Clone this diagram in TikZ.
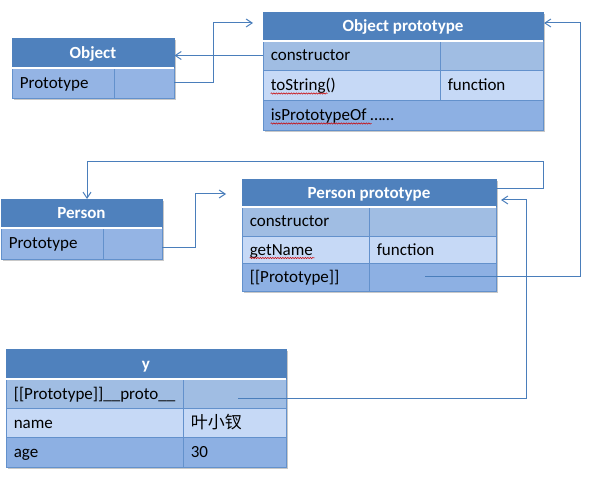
\documentclass[tikz,border=0pt]{standalone}
\usepackage{fontspec}
\setmainfont{Carlito}
\newfontfamily\cjk{Noto Sans CJK SC}
\usetikzlibrary{fit,arrows.meta,decorations.pathmorphing}
\definecolor{hdrblue}{HTML}{4F81BD}
\definecolor{rowmid}{HTML}{A0BDE3}
\definecolor{rowlight}{HTML}{C6D9F6}
\definecolor{rowdark}{HTML}{8DB0E3}
\definecolor{rowone}{HTML}{94B4E4}
\definecolor{gridblue}{HTML}{6391CC}
\definecolor{connblue}{HTML}{4A7EBB}
\definecolor{shadowgray}{HTML}{C8C8C8}
\tikzset{
  hdrbox/.style={inner sep=0pt, fill=hdrblue, draw=hdrblue, line width=0.8pt},
  cellbox/.style={inner sep=0pt, draw=gridblue, line width=0.8pt},
  celltext/.style={anchor=base west, inner sep=0pt, xshift=8pt, yshift=-5.5pt, text=black},
  hdrtext/.style={anchor=base, inner sep=0pt, yshift=-5.5pt, text=white, font=\fontsize{17}{20}\selectfont\bfseries},
  sep/.style={draw=white, line width=2pt},
  conn/.style={draw=connblue, line width=1pt, -{Straight Barb[length=6pt,width=8pt]}},
  spell/.style={draw=red!80!black, line width=0.5pt, decorate, decoration={snake, amplitude=0.7pt, segment length=2.5pt}},
  shadow/.style={fill=shadowgray}
}
\newcommand\tcell[6]{\node[#6, fit={(#2,#3) (#4,#5)}] (#1) {};}
\newcommand\ctext[2]{\node[celltext] (#1t) at (#1.west) {#2};}
\newcommand\htext[2]{\node[hdrtext] (#1t) at (#1.center) {#2};}
\begin{document}
\begin{tikzpicture}[x=1pt, y=-1pt, font=\fontsize{17}{20}\selectfont]
\useasboundingbox (0,0) rectangle (602,478);
% shadows
\fill[shadow] (14,40) rectangle (176,100);
\fill[shadow] (265,14) rectangle (545,132);
\fill[shadow] (3,201) rectangle (164,261);
\fill[shadow] (244,181) rectangle (498,293);
\fill[shadow] (8,351) rectangle (288,469);

% Object
\tcell{objh}{12}{38}{174}{68}{hdrbox}
\tcell{objra}{12}{68}{114}{98}{cellbox, fill=rowone}
\tcell{objrb}{114}{68}{174}{98}{cellbox, fill=rowone}
\draw[sep] ([xshift=0.5pt]objh.south west) -- ([xshift=-0.5pt]objh.south east);
\htext{objh}{Object}
\ctext{objra}{Prototype}

% Object prototype
\tcell{oph}{263}{12}{543}{41}{hdrbox}
\tcell{opaa}{263}{41}{440}{70}{cellbox, fill=rowmid}
\tcell{opab}{440}{41}{543}{70}{cellbox, fill=rowmid}
\tcell{opba}{263}{70}{440}{100}{cellbox, fill=rowlight}
\tcell{opbb}{440}{70}{543}{100}{cellbox, fill=rowlight}
\tcell{opc}{263}{100}{543}{130}{cellbox, fill=rowdark}
\draw[sep] ([xshift=0.5pt]oph.south west) -- ([xshift=-0.5pt]oph.south east);
\htext{oph}{Object prototype}
\ctext{opaa}{constructor}
\ctext{opba}{toString()}
\ctext{opbb}{function}
\ctext{opc}{isPrototypeOf ……}

% Person
\tcell{perh}{1}{199}{162}{228}{hdrbox}
\tcell{perra}{1}{228}{103}{259}{cellbox, fill=rowone}
\tcell{perrb}{103}{228}{162}{259}{cellbox, fill=rowone}
\draw[sep] ([xshift=0.5pt]perh.south west) -- ([xshift=-0.5pt]perh.south east);
\htext{perh}{Person}
\ctext{perra}{Prototype}

% Person prototype
\tcell{pph}{242}{179}{496}{207}{hdrbox}
\tcell{ppaa}{242}{207}{369}{236}{cellbox, fill=rowmid}
\tcell{ppab}{369}{207}{496}{236}{cellbox, fill=rowmid}
\tcell{ppba}{242}{236}{369}{263}{cellbox, fill=rowlight}
\tcell{ppbb}{369}{236}{496}{263}{cellbox, fill=rowlight}
\tcell{ppca}{242}{263}{369}{291}{cellbox, fill=rowdark}
\tcell{ppcb}{369}{263}{496}{291}{cellbox, fill=rowdark}
\draw[sep] ([xshift=0.5pt]pph.south west) -- ([xshift=-0.5pt]pph.south east);
\htext{pph}{Person prototype}
\ctext{ppaa}{constructor}
\ctext{ppba}{getName}
\ctext{ppbb}{function}
\ctext{ppca}{[[Prototype]]}

% y
\tcell{yh}{6}{349}{286}{379}{hdrbox}
\tcell{yaa}{6}{379}{183}{408}{cellbox, fill=rowmid}
\tcell{yab}{183}{379}{286}{408}{cellbox, fill=rowmid}
\tcell{yba}{6}{408}{183}{437}{cellbox, fill=rowlight}
\tcell{ybb}{183}{408}{286}{437}{cellbox, fill=rowlight}
\tcell{yca}{6}{437}{183}{467}{cellbox, fill=rowdark}
\tcell{ycb}{183}{437}{286}{467}{cellbox, fill=rowdark}
\draw[sep] ([xshift=0.5pt]yh.south west) -- ([xshift=-0.5pt]yh.south east);
\htext{yh}{y}
\ctext{yaa}{[[Prototype]]\_\_proto\_\_}
\ctext{yba}{name}
\ctext{ybb}{\cjk 叶小钗}
\ctext{yca}{age}
\ctext{ycb}{30}

% spell-check underlines
\draw[spell] ([yshift=-3pt]opbat.base west) -- ++(57,0);
\draw[spell] ([yshift=-3pt]opct.base west) -- ++(101,0);
\draw[spell] ([yshift=-3pt]ppbat.base west) -- ++(65,0);

% connectors
\draw[conn] (opaa.west) -- (opaa.west -| objh.east);

\coordinate (k2) at (213,23);
\coordinate (t2) at (253,23);
\draw[conn] (objrb.east) -| (k2) -- (t2);

\coordinate (s3) at (425,277);
\coordinate (k3) at (580,23);
\coordinate (t3) at (544,23);
\draw[conn] (s3) -| (k3) -- (t3);

\coordinate (s4) at (162,248);
\coordinate (k4) at (195,194);
\coordinate (t4) at (226,194);
\draw[conn] (s4) -| (k4) -- (t4);

\coordinate (s5) at (496,189);
\coordinate (k5) at (543,162);
\coordinate (m5) at (87,162);
\coordinate (t5) at (87,199);
\draw[conn] (s5) -| (k5) -- (m5) -- (t5);

\coordinate (s6) at (238,398);
\coordinate (k6) at (526,200);
\coordinate (t6) at (501,200);
\draw[conn] (s6) -| (k6) -- (t6);
\end{tikzpicture}
\end{document}
